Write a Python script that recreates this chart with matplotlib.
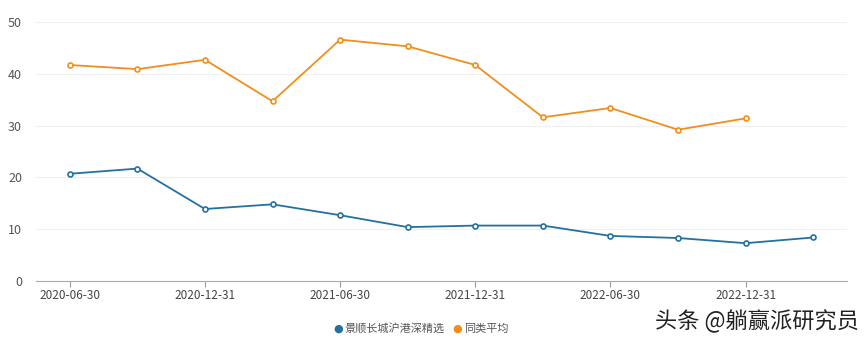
import matplotlib
matplotlib.use("Agg")
import matplotlib.pyplot as plt
import numpy as np

plt.rcParams['font.family'] = ['Noto Sans CJK SC', 'DejaVu Sans']

dates = ["2020-06-30", "2020-09-30", "2020-12-31", "2021-03-31", "2021-06-30", "2021-09-30",
         "2021-12-31", "2022-03-31", "2022-06-30", "2022-09-30", "2022-12-31", "2023-03-31"]
fund = [20.7, 21.7, 13.9, 14.8, 12.7, 10.4, 10.7, 10.7, 8.7, 8.3, 7.3, 8.4]
peer = [41.7, 40.9, 42.7, 34.7, 46.6, 45.3, 41.7, 31.6, 33.4, 29.2, 31.4, np.nan]
yticks = [0, 10, 20, 30, 40, 50]
series_names = ["景顺长城沪港深精选", "同类平均"]

blue = "#23719f"
orange = "#f18e1e"

fig = plt.figure(figsize=(8.65, 3.43), dpi=100)
ax = fig.add_axes([36/865, (343-281)/343, (847-36)/865, (281-22)/343])
x = np.arange(len(dates))
ax.plot(x, fund, color=blue, lw=1.3, marker='o', ms=3.6, mfc='white', mec=blue, mew=1.2, zorder=3)
ax.plot(x, peer, color=orange, lw=1.3, marker='o', ms=3.6, mfc='white', mec=orange, mew=1.2, zorder=3)

ax.set_xlim(-0.5, len(dates) - 0.5)
ax.set_ylim(0, 50)
ax.set_yticks(yticks)
ax.set_yticklabels([str(v) for v in yticks], fontsize=9, color='#555555')
ax.set_xticks(x[::2])
ax.set_xticklabels(dates[::2], fontsize=8.5, color='#444444')
ax.tick_params(axis='y', length=0, pad=10)
ax.tick_params(axis='x', length=4, color='#999999', pad=2)
for s in ['top', 'right', 'left']:
    ax.spines[s].set_visible(False)
ax.spines['bottom'].set_color('#aaaaaa')
ax.grid(axis='y', color='#f0f0f0', lw=0.8)
ax.set_axisbelow(True)

# legend
ly = 1 - 329/343
fig.text(338/865, ly, "●", color=blue, fontsize=8, ha='center', va='center', family=['DejaVu Sans'])
fig.text(345/865, ly, series_names[0], color='#555555', fontsize=8, ha='left', va='center')
fig.text(457/865, ly, "●", color=orange, fontsize=8, ha='center', va='center', family=['DejaVu Sans'])
fig.text(464/865, ly, series_names[1], color='#555555', fontsize=8, ha='left', va='center')

# watermark
fig.text(859/865, 1 - 321/343, "头条 @躺赢派研究员", color='#222222', fontsize=16, ha='right', va='center')

fig.savefig("out.png", dpi=100)
